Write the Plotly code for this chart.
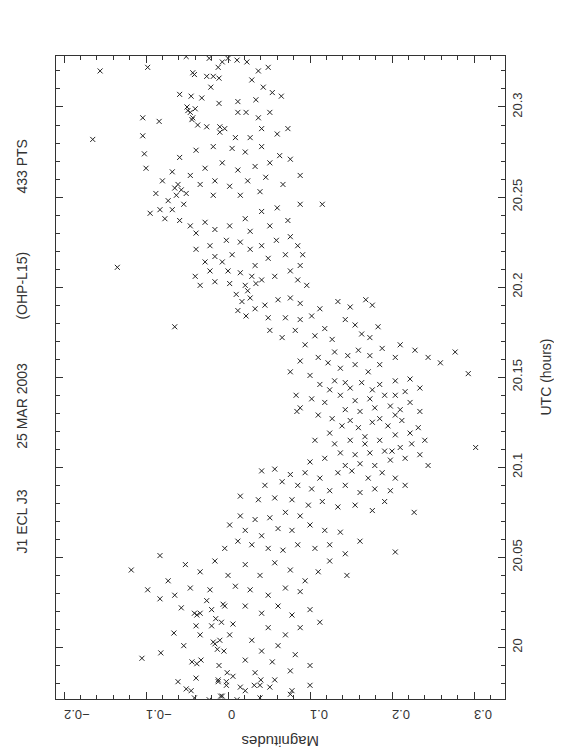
import plotly.graph_objects as go

# (UTC hours, magnitude) pairs, grouped by time band
band_a = [
    (20.328, -0.051), (20.327, -0.023), (20.327, 0.000), (20.326, 0.011), (20.325, -0.007),
    (20.322, -0.012), (20.322, -0.098), (20.320, -0.156), (20.319, -0.043), (20.318, -0.041),
    (20.317, -0.026), (20.317, -0.018), (20.316, -0.011), (20.311, -0.021), (20.307, -0.059),
    (20.306, -0.045), (20.305, -0.032), (20.302, -0.011), (20.303, 0.012),
    (20.325, 0.023), (20.320, 0.037), (20.322, 0.049), (20.315, 0.029), (20.311, 0.043),
    (20.308, 0.054), (20.304, 0.034), (20.306, 0.065),
]
band_b = [
    (20.297, 0.012), (20.300, -0.050), (20.298, -0.049), (20.299, -0.040), (20.297, -0.046),
    (20.294, -0.043), (20.293, -0.044), (20.294, -0.104), (20.292, -0.084), (20.290, -0.037),
    (20.289, -0.026), (20.289, -0.010), (20.288, -0.004), (20.284, -0.104), (20.282, -0.165),
    (20.286, -0.010), (20.283, 0.009),
    (20.297, 0.022), (20.294, 0.037), (20.297, 0.051), (20.288, 0.073), (20.288, 0.041),
    (20.285, 0.060), (20.283, 0.027),
    (20.274, -0.102), (20.266, -0.100), (20.272, -0.059), (20.276, -0.039), (20.278, -0.018),
    (20.277, 0.005), (20.275, 0.021), (20.278, 0.041), (20.273, 0.063), (20.271, 0.076),
    (20.269, 0.051), (20.267, 0.033), (20.265, 0.012), (20.269, -0.007), (20.266, -0.028),
    (20.262, -0.046), (20.264, -0.068), (20.259, -0.080), (20.257, -0.061), (20.255, -0.065),
    (20.254, -0.057), (20.252, -0.051), (20.251, -0.063), (20.257, -0.034), (20.259, -0.016),
    (20.256, 0.002), (20.259, 0.024), (20.261, 0.046), (20.257, 0.067), (20.253, 0.039),
    (20.251, 0.015), (20.251, -0.018), (20.252, -0.088), (20.262, 0.088),
]
band_c = [
    (20.248, -0.073), (20.246, -0.054), (20.243, -0.068), (20.243, -0.083), (20.241, -0.095),
    (20.238, -0.077), (20.237, -0.059), (20.234, -0.046), (20.236, -0.028), (20.232, -0.016),
    (20.230, -0.039), (20.234, 0.002), (20.238, 0.021), (20.242, 0.041), (20.244, 0.060),
    (20.246, 0.088), (20.246, 0.115), (20.237, 0.073), (20.234, 0.051), (20.231, 0.027),
    (20.225, 0.015), (20.226, -0.002), (20.223, -0.022), (20.221, -0.039), (20.217, -0.016),
    (20.214, -0.028), (20.214, -0.007), (20.218, 0.005), (20.221, 0.027), (20.223, 0.041),
    (20.226, 0.059), (20.228, 0.076), (20.223, 0.085), (20.218, 0.091), (20.218, 0.070),
    (20.216, 0.049), (20.212, 0.033), (20.208, 0.015), (20.209, 0.000), (20.209, -0.022),
    (20.206, -0.040), (20.201, -0.034), (20.203, -0.016), (20.202, 0.002), (20.201, 0.021),
    (20.204, 0.041), (20.206, 0.057), (20.209, 0.076), (20.212, 0.088), (20.204, 0.085),
    (20.201, 0.096), (20.211, -0.135), (20.206, 0.029), (20.202, 0.034), (20.198, 0.024),
]
band_d = [
    (20.196, 0.010), (20.192, 0.017), (20.194, 0.027), (20.187, 0.012), (20.184, 0.022),
    (20.188, 0.033), (20.190, 0.045), (20.193, 0.061), (20.194, 0.076), (20.191, 0.088),
    (20.183, 0.049), (20.183, 0.070), (20.182, 0.088), (20.184, 0.102), (20.188, 0.112),
    (20.192, 0.134), (20.189, 0.149), (20.193, 0.168), (20.190, 0.176), (20.178, -0.065),
    (20.176, 0.051), (20.172, 0.066), (20.176, 0.082), (20.168, 0.094), (20.173, 0.106),
    (20.177, 0.118), (20.171, 0.127), (20.182, 0.143), (20.179, 0.155), (20.174, 0.163),
    (20.172, 0.173), (20.178, 0.183), (20.164, 0.130), (20.162, 0.146), (20.165, 0.159),
    (20.162, 0.173), (20.166, 0.188), (20.161, 0.110), (20.158, 0.122), (20.155, 0.137),
    (20.157, 0.155), (20.153, 0.171), (20.157, 0.185), (20.161, 0.204), (20.159, 0.088),
    (20.153, 0.076), (20.151, 0.100),
    (20.168, 0.210), (20.165, 0.228), (20.161, 0.244), (20.164, 0.277), (20.158, 0.259),
    (20.152, 0.293),
]
band_e = [
    (20.140, 0.083), (20.133, 0.088), (20.131, 0.084), (20.146, 0.112), (20.148, 0.130),
    (20.144, 0.149), (20.147, 0.163), (20.146, 0.185), (20.148, 0.204), (20.149, 0.222),
    (20.144, 0.234), (20.142, 0.216), (20.140, 0.191), (20.138, 0.173), (20.137, 0.155),
    (20.140, 0.137), (20.136, 0.118), (20.129, 0.110), (20.127, 0.127), (20.132, 0.143),
    (20.131, 0.161), (20.133, 0.179), (20.134, 0.198), (20.132, 0.210), (20.136, 0.222),
    (20.131, 0.234), (20.126, 0.212), (20.123, 0.195), (20.125, 0.176), (20.122, 0.159),
    (20.123, 0.139), (20.119, 0.124), (20.115, 0.106), (20.115, 0.149), (20.117, 0.167),
    (20.115, 0.185), (20.118, 0.204), (20.119, 0.222), (20.115, 0.240), (20.122, 0.232),
    (20.111, 0.210), (20.109, 0.191), (20.108, 0.173), (20.107, 0.155), (20.108, 0.137),
    (20.105, 0.118), (20.103, 0.100), (20.101, 0.143), (20.102, 0.161), (20.101, 0.179),
    (20.104, 0.198), (20.105, 0.216), (20.107, 0.234), (20.111, 0.302), (20.101, 0.244),
    (20.143, 0.124), (20.147, 0.143), (20.143, 0.176), (20.140, 0.204), (20.138, 0.102),
    (20.126, 0.149), (20.127, 0.185), (20.129, 0.204), (20.113, 0.167), (20.113, 0.130),
    (20.113, 0.224), (20.109, 0.200),
]
band_f = [
    (20.098, 0.041), (20.099, 0.057), (20.096, 0.076), (20.097, 0.094), (20.094, 0.112),
    (20.097, 0.134), (20.098, 0.151), (20.094, 0.171), (20.097, 0.188), (20.094, 0.204),
    (20.090, 0.216), (20.087, 0.198), (20.088, 0.179), (20.086, 0.161), (20.090, 0.143),
    (20.087, 0.124), (20.088, 0.102), (20.090, 0.085), (20.092, 0.066), (20.090, 0.045),
    (20.084, 0.015), (20.082, 0.037), (20.083, 0.057), (20.082, 0.078), (20.079, 0.098),
    (20.081, 0.115), (20.078, 0.134), (20.079, 0.155), (20.076, 0.176), (20.081, 0.191),
    (20.075, 0.227), (20.073, 0.088), (20.075, 0.070), (20.072, 0.051), (20.071, 0.033),
    (20.073, 0.015), (20.068, 0.002), (20.065, 0.021), (20.062, 0.041), (20.066, 0.061),
    (20.065, 0.078), (20.068, 0.100), (20.065, 0.118), (20.064, 0.137), (20.057, 0.124),
    (20.055, 0.106), (20.057, 0.085), (20.054, 0.067), (20.055, 0.049), (20.057, 0.029),
    (20.059, 0.012), (20.055, -0.004), (20.048, 0.124), (20.052, 0.143), (20.053, 0.204),
    (20.059, 0.161), (20.040, 0.145),
]
band_g = [
    (19.994, -0.105), (19.997, -0.082), (20.008, -0.066), (20.022, -0.057), (20.001, -0.054),
    (19.981, -0.061), (19.977, -0.051), (19.976, -0.045), (19.972, -0.041), (19.971, -0.023),
    (19.983, -0.039), (19.992, -0.044), (19.991, -0.038), (19.993, -0.033), (20.012, -0.039),
    (20.007, -0.034), (20.019, -0.041), (20.018, -0.038), (20.019, -0.034), (20.021, -0.020),
    (20.012, -0.020), (20.003, -0.018), (20.002, -0.016), (20.004, -0.010), (19.999, -0.013),
    (19.998, -0.005), (20.016, -0.015), (20.014, -0.008), (20.013, 0.006), (20.007, 0.002),
    (20.024, -0.006), (20.023, -0.004), (19.990, -0.011), (19.986, -0.001), (19.982, -0.012),
    (19.981, -0.002), (19.973, -0.007), (20.026, -0.026), (19.984, 0.006),
    (20.043, -0.118), (20.051, -0.083), (20.037, -0.073), (20.046, -0.052), (20.042, -0.034),
    (20.048, -0.016), (20.040, 0.000), (20.046, 0.021), (20.040, 0.039), (20.047, 0.057),
    (20.043, 0.076), (20.037, 0.094), (20.042, 0.110), (20.031, 0.088), (20.033, 0.070),
    (20.029, 0.049), (20.032, 0.027), (20.034, 0.009), (20.032, -0.022), (20.033, -0.046),
    (20.029, -0.065), (20.027, -0.083), (20.032, -0.098),
    (20.023, 0.021), (20.019, 0.041), (20.023, 0.061), (20.018, 0.078), (20.021, 0.100),
    (20.014, 0.112), (20.011, 0.088), (20.007, 0.070), (20.011, 0.049), (20.004, 0.029),
    (19.998, 0.041), (20.001, 0.061), (19.996, 0.082), (19.990, 0.100), (19.987, 0.076),
    (19.992, 0.054), (19.986, 0.033), (19.993, 0.021), (19.979, 0.039), (19.982, 0.057),
    (19.976, 0.078), (19.976, 0.021), (19.972, 0.039), (19.979, 0.100),
    (19.971, 0.011), (19.978, 0.015), (19.979, 0.032), (19.982, 0.040), (19.978, 0.051),
    (19.974, 0.076), (19.973, -0.009), (19.979, -0.002), (19.981, -0.012),
]

bands = [band_a, band_b, band_c, band_d, band_e, band_f, band_g]
utc = [p[0] for b in bands for p in b]
mag = [p[1] for b in bands for p in b]

title_parts = ["J1 ECL J3", "25 MAR 2003", "(OHP-L15)", "433 PTS"]
title_pos = [0.276, 0.456, 0.643, 0.828]

ink = "#333333"
font_family = "Liberation Sans, Arial, sans-serif"

# The page body adds an 8px offset; shift the figure geometry to compensate.
FIG_W, FIG_H = 554, 748
M_L, M_T = 48, 48
M_R = FIG_W - 497
M_B = FIG_H - 691

fig = go.Figure()
fig.add_trace(go.Scatter(
    x=mag, y=utc, mode="markers",
    marker=dict(symbol="x-thin", size=5, line=dict(width=1, color="#222222"), color="#222222"),
    hoverinfo="skip",
))

axis_common = dict(
    ticks="inside", ticklen=7, tickwidth=1, tickcolor=ink,
    showline=True, linecolor=ink, linewidth=1, mirror="ticks",
    showgrid=False, zeroline=False,
    tickfont=dict(family=font_family, size=13, color=ink),
)

fig.update_xaxes(
    range=[-0.2098, 0.3378], tickmode="linear", tick0=0, dtick=0.1, tickangle=180,
    ticklabelstandoff=7,
    minor=dict(ticks="inside", ticklen=4, tickwidth=1, tickcolor=ink, dtick=0.02, tick0=0, showgrid=False),
    **axis_common,
)
fig.update_yaxes(
    range=[19.9714, 20.3283], tickmode="linear", tick0=20, dtick=0.05, tickangle=-90, side="right",
    minor=dict(ticks="inside", ticklen=4, tickwidth=1, tickcolor=ink, dtick=0.01, tick0=20, showgrid=False),
    **axis_common,
)

plot_w = 497 - M_L
plot_h = 691 - M_T

def px_x(px):
    return (px - 8 - M_L) / plot_w

def px_y(py):
    return (691 - (py - 8)) / plot_h

annotations = [
    dict(text="Magnitudes", x=0.5, y=px_y(742), xref="paper", yref="paper", showarrow=False,
         textangle=180, xanchor="center", yanchor="middle",
         font=dict(family=font_family, size=15, color=ink)),
    dict(text="UTC (hours)", x=px_x(545), y=0.5, xref="paper", yref="paper", showarrow=False,
         textangle=-90, xanchor="center", yanchor="middle",
         font=dict(family=font_family, size=14, color=ink)),
]
for txt, yp in zip(title_parts, title_pos):
    annotations.append(dict(text=txt, x=px_x(22), y=yp, xref="paper", yref="paper", showarrow=False,
                            textangle=-90, xanchor="center", yanchor="middle",
                            font=dict(family=font_family, size=14, color=ink)))

fig.update_layout(
    width=FIG_W, height=FIG_H,
    margin=dict(l=M_L, r=M_R, t=M_T, b=M_B, autoexpand=False),
    plot_bgcolor="white", paper_bgcolor="white",
    showlegend=False,
    annotations=annotations,
)

fig.write_html("out.html")
